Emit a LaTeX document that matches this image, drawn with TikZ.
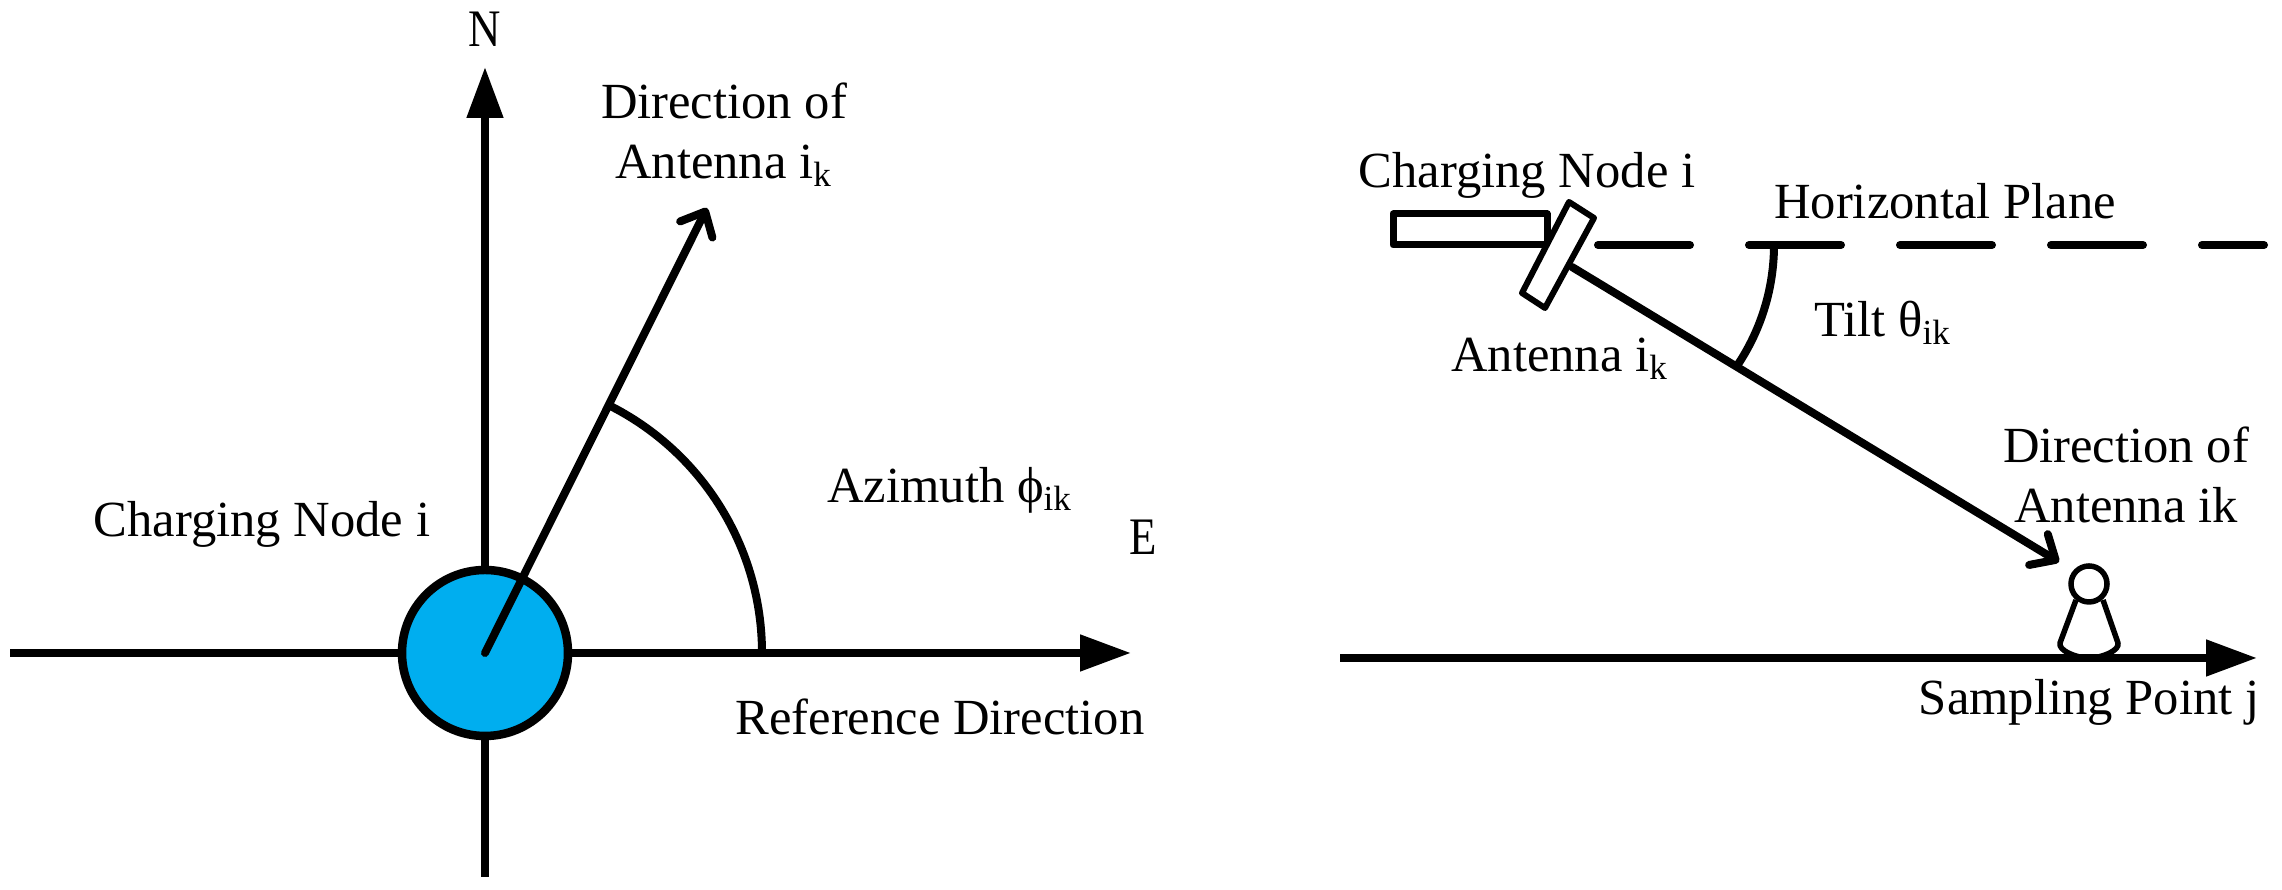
\documentclass[tikz,border=0pt]{standalone}
\usepackage{fontspec}
\setmainfont{Liberation Serif}
\usetikzlibrary{arrows.meta}
\definecolor{nodeblue}{HTML}{00AEEF}
\tikzset{
  lbl/.style={font=\fontsize{14.4}{17.2}\selectfont,inner sep=0pt,anchor=base,align=center},
  compass/.style={font=\fontsize{15}{18}\selectfont,inner sep=0pt,anchor=base,xscale=.85},
  thickline/.style={line width=.08cm},
  solidhead/.style={-{Triangle[length=.51cm,width=.35cm]}},
  openhead/.style={-{Straight Barb[length=.2cm,width=.36cm,round]}}
}
\begin{document}
\begin{tikzpicture}
\useasboundingbox (0,0) rectangle (22.82,8.9);

% Left panel: axes
\coordinate (centre) at (4.85,2.37);
\coordinate (west) at (0.1,2.37);
\coordinate (east) at (11.31,2.37);
\coordinate (north) at (4.85,8.23);
\coordinate (south) at (4.85,0.13);
\coordinate (antTip) at (7.07,6.82);
\draw[thickline,solidhead] (west) -- (east);
\draw[thickline,solidhead] (south) -- (north);

% Charging node and antenna direction
\node[circle,draw,fill=nodeblue,line width=.085cm,minimum size=1.66cm,inner sep=0pt] (chargeDisc) at (centre) {};
\draw[thickline,openhead,line cap=round] (centre) -- (antTip);

% Azimuth arc
\coordinate (aziStart) at (7.62,2.37);
\draw[thickline] (aziStart) arc[start angle=0,end angle=63.5,radius=2.77];

% Left panel labels
\node[compass] (nLbl) at (4.85,8.43) {N};
\node[compass] (eLbl) at (11.43,3.35) {E};
\node[lbl] (dirLbl) at (7.24,7.11) {Direction of\\Antenna i\textsubscript{k}};
\node[lbl] (chargeLbl) at (2.62,3.53) {Charging Node i};
\node[lbl] (aziLbl) at (9.5,3.87) {Azimuth ϕ\textsubscript{ik}};
\node[lbl] (refLbl) at (9.4,1.55) {Reference Direction};

% Right panel: horizontal plane
\coordinate (planeStart) at (15.98,6.45);
\coordinate (planeEnd) at (22.64,6.45);
\draw[thickline,line cap=round,dash pattern=on .92cm off .59cm] (planeStart) -- (planeEnd);

% Charging node body and antenna
\draw[line width=.07cm,line join=round] (13.93,6.45) rectangle (15.47,6.76);
\draw[line width=.06cm,line join=round,fill=white] (15.69,6.88) -- (15.94,6.72) -- (15.45,5.82) -- (15.22,5.97) -- cycle;

% Sight line and tilt arc
\coordinate (beamStart) at (15.72,6.23);
\coordinate (beamTip) at (20.59,3.28);
\coordinate (tiltStart) at (17.74,6.45);
\draw[thickline,openhead,line cap=round] (beamStart) -- (beamTip);
\draw[thickline] (tiltStart) arc[start angle=0,end angle=-33.5,radius=2.16];

% Ground and sampling point
\coordinate (groundStart) at (13.4,2.32);
\coordinate (groundEnd) at (22.57,2.32);
\draw[thickline,solidhead] (groundStart) -- (groundEnd);
\draw[line width=.055cm,line join=round] (20.76,2.9) -- (20.6,2.47) .. controls (20.58,2.4) and (20.75,2.32) .. (20.89,2.32) .. controls (21.03,2.32) and (21.2,2.4) .. (21.18,2.47) -- (21.03,2.9);
\node[circle,draw,line width=.055cm,minimum size=.36cm,inner sep=0pt] (samplePoint) at (20.89,3.06) {};

% Right panel labels
\node[lbl] (chargeLblB) at (15.27,7.02) {Charging Node i};
\node[lbl] (planeLbl) at (19.45,6.71) {Horizontal Plane};
\node[lbl] (tiltLbl) at (18.83,5.53) {Tilt θ\textsubscript{ik}};
\node[lbl] (antLbl) at (15.6,5.18) {Antenna i\textsubscript{k}};
\node[lbl] (dirLblB) at (21.26,3.67) {Direction of\\Antenna ik};
\node[lbl] (sampleLbl) at (20.89,1.75) {Sampling Point j};
\end{tikzpicture}
\end{document}
